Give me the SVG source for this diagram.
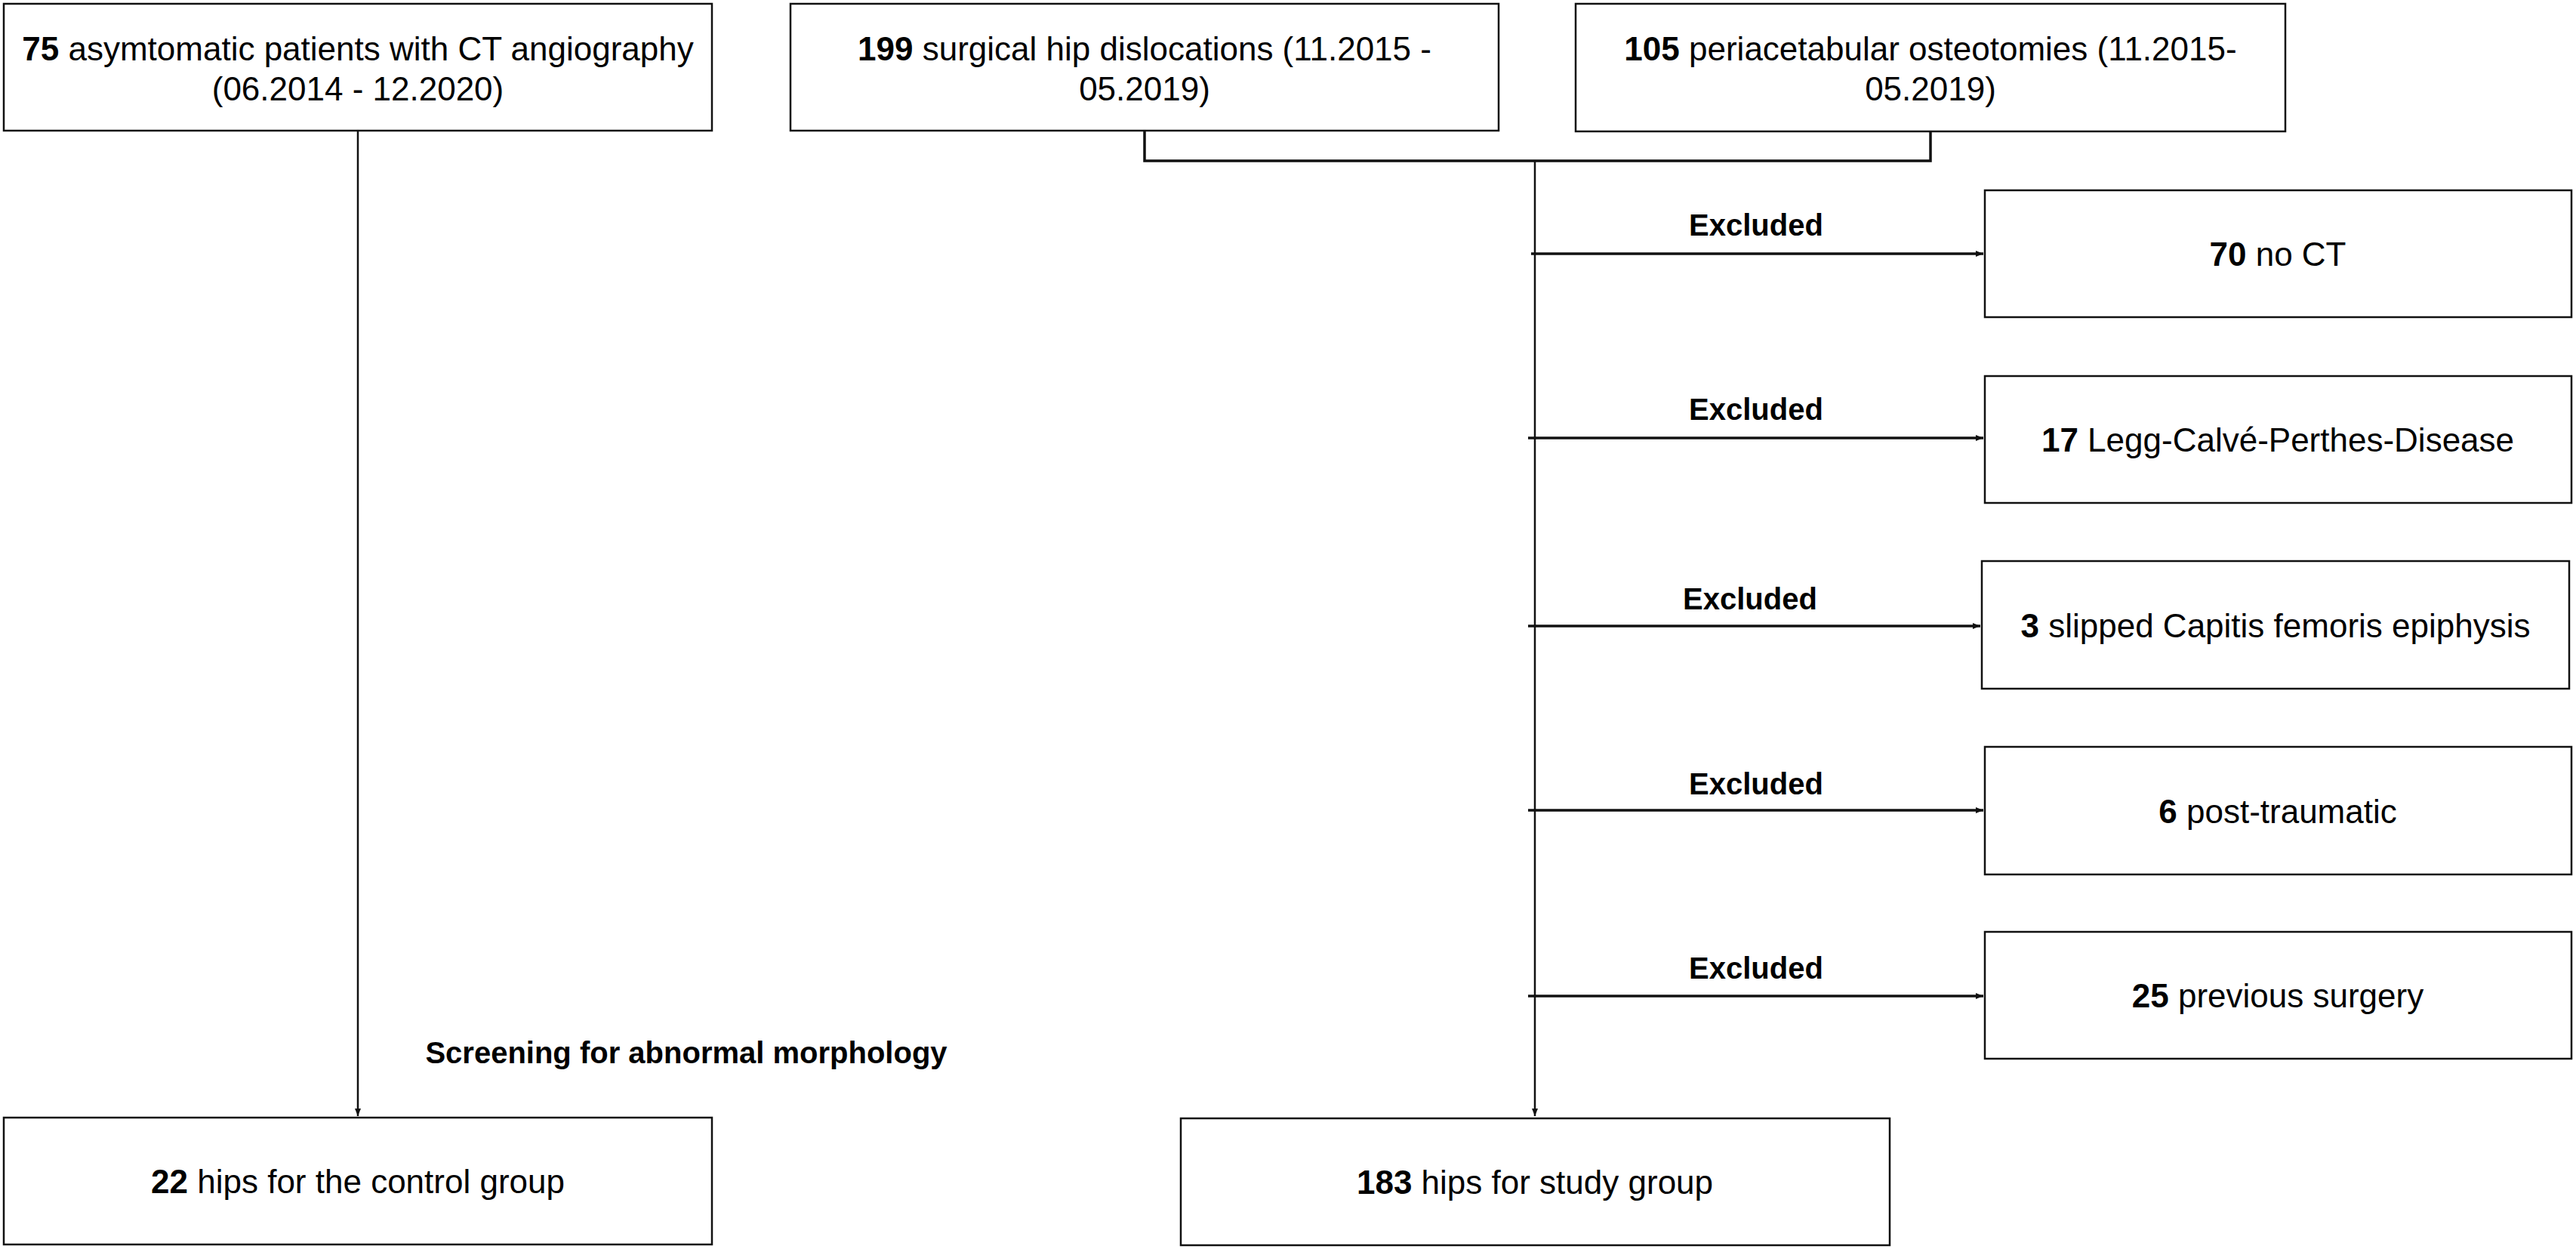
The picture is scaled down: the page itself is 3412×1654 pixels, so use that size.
<svg xmlns="http://www.w3.org/2000/svg" width="3412" height="1654" viewBox="0 0 3412 1654">
<style>
.box{fill:#fff;stroke:#111;stroke-width:2.5}
.t{font-family:"Liberation Sans",Arial,Helvetica,sans-serif;font-size:44px;fill:#000;text-anchor:middle}
.b{font-weight:bold}
.lbl{font-family:"Liberation Sans",Arial,Helvetica,sans-serif;font-size:40px;font-weight:bold;fill:#000;text-anchor:middle}
.ln{fill:none;stroke:#111;stroke-width:2.5}
.lt{fill:none;stroke:#111;stroke-width:3.5}
</style>
<defs>
<marker id="arr" markerUnits="userSpaceOnUse" markerWidth="12" markerHeight="10" refX="10" refY="5" orient="auto">
<path d="M0,1 L10,5 L0,9 Z" fill="#111"/>
</marker>
</defs>
<rect width="3412" height="1654" fill="#fff"/>
<g id="connectors">
<path class="ln" d="M474,173 V1478" marker-end="url(#arr)"/>
<path class="lt" d="M1516,173 V213 H2557 V174"/>
<path class="ln" d="M2033,213 V1478" marker-end="url(#arr)"/>
<path class="lt" d="M2028,336 H2627" marker-end="url(#arr)"/>
<path class="lt" d="M2024,580 H2627" marker-end="url(#arr)"/>
<path class="lt" d="M2024,829 H2623" marker-end="url(#arr)"/>
<path class="lt" d="M2024,1073 H2627" marker-end="url(#arr)"/>
<path class="lt" d="M2024,1319 H2627" marker-end="url(#arr)"/>
<text class="lbl" x="2326" y="312">Excluded</text>
<text class="lbl" x="2326" y="556">Excluded</text>
<text class="lbl" x="2318" y="807">Excluded</text>
<text class="lbl" x="2326" y="1052">Excluded</text>
<text class="lbl" x="2326" y="1296">Excluded</text>
<text class="lbl" x="909" y="1408">Screening for abnormal morphology</text>
</g>
<g id="n-control-source">
<rect class="box" x="5" y="5" width="938" height="168"/>
<text class="t" x="474" y="80"><tspan class="b">75</tspan> asymtomatic patients with CT angiography</text>
<text class="t" x="474" y="133">(06.2014 - 12.2020)</text>
</g>
<g id="n-shd">
<rect class="box" x="1047" y="5" width="938" height="168"/>
<text class="t" x="1516" y="80"><tspan class="b">199</tspan> surgical hip dislocations (11.2015 -</text>
<text class="t" x="1516" y="133">05.2019)</text>
</g>
<g id="n-pao">
<rect class="box" x="2087" y="5" width="940" height="169"/>
<text class="t" x="2557" y="80"><tspan class="b">105</tspan> periacetabular osteotomies (11.2015-</text>
<text class="t" x="2557" y="133">05.2019)</text>
</g>
<g id="n-noct">
<rect class="box" x="2629" y="252" width="777" height="168"/>
<text class="t" x="3017" y="352"><tspan class="b">70</tspan> no CT</text>
</g>
<g id="n-lcp">
<rect class="box" x="2629" y="498" width="777" height="168"/>
<text class="t" x="3017" y="598"><tspan class="b">17</tspan> Legg-Calvé-Perthes-Disease</text>
</g>
<g id="n-scfe">
<rect class="box" x="2625" y="743" width="778" height="169"/>
<text class="t" x="3014" y="844"><tspan class="b">3</tspan> slipped Capitis femoris epiphysis</text>
</g>
<g id="n-trauma">
<rect class="box" x="2629" y="989" width="777" height="169"/>
<text class="t" x="3017" y="1090"><tspan class="b">6</tspan> post-traumatic</text>
</g>
<g id="n-prevsurg">
<rect class="box" x="2629" y="1234" width="777" height="168"/>
<text class="t" x="3017" y="1334"><tspan class="b">25</tspan> previous surgery</text>
</g>
<g id="n-control">
<rect class="box" x="5" y="1480" width="938" height="168"/>
<text class="t" x="474" y="1580"><tspan class="b">22</tspan> hips for the control group</text>
</g>
<g id="n-study">
<rect class="box" x="1564" y="1481" width="939" height="168"/>
<text class="t" x="2033" y="1581"><tspan class="b">183</tspan> hips for study group</text>
</g>
</svg>
